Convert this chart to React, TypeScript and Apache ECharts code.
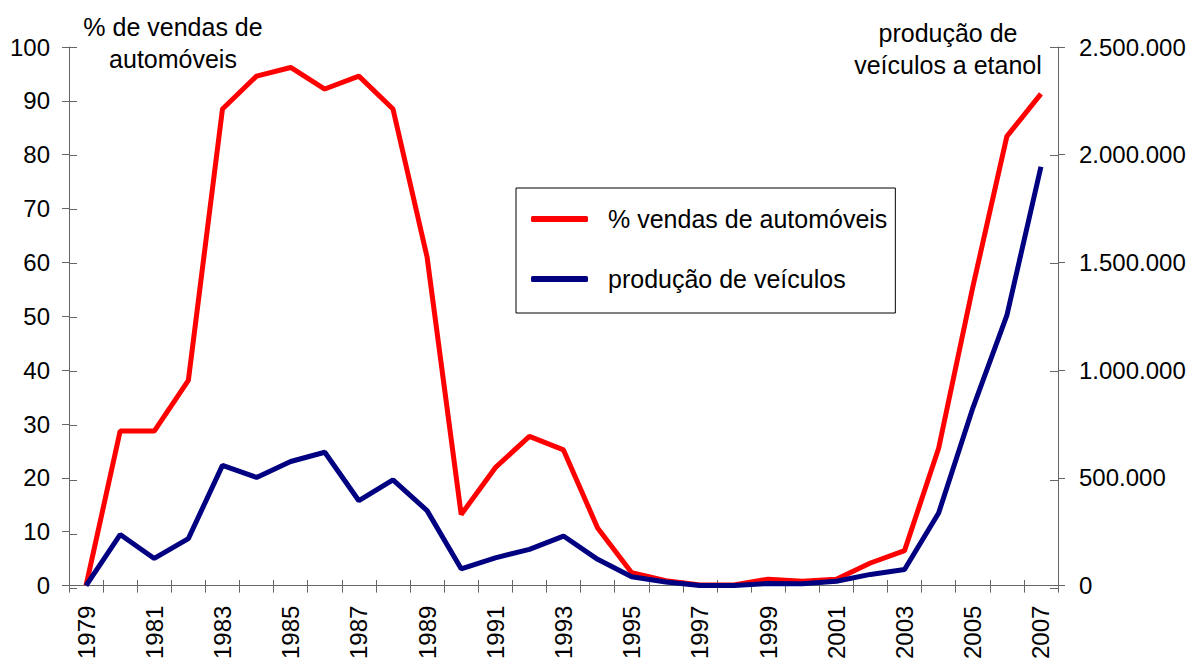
import React, { useEffect, useRef } from "react";
import * as echarts from "echarts";

const years = [
  "1979", "1980", "1981", "1982", "1983", "1984", "1985", "1986", "1987", "1988",
  "1989", "1990", "1991", "1992", "1993", "1994", "1995", "1996", "1997", "1998",
  "1999", "2000", "2001", "2002", "2003", "2004", "2005", "2006", "2007",
];

// % de vendas de automóveis (eixo esquerdo)
const salesShare = [
  0, 28.7, 28.7, 38.1, 88.5, 94.6, 96.2, 92.2, 94.6, 88.5,
  61.0, 13.2, 21.9, 27.7, 25.2, 10.7, 2.4, 0.9, 0.1, 0.1,
  1.2, 0.8, 1.2, 4.2, 6.5, 25.5, 55.4, 83.4, 91.3,
];

// produção de veículos a etanol (eixo direito)
const production = [
  0, 237000, 126000, 218000, 558000, 502000, 576000, 619000, 394000, 491000,
  348000, 78000, 129000, 168000, 230000, 122000, 41000, 17000, 1000, 1000,
  10000, 9000, 20000, 52000, 75000, 337000, 823000, 1254000, 1944000,
];

const leftTitle = "% de vendas de\nautomóveis";
const rightTitle = "produção de\nveículos a etanol";
const seriesNames = ["% vendas de automóveis", "produção de veículos"];

const FONT = "Liberation Sans, Arial, sans-serif";
const AXIS_COLOR = "#666666";

const fmtDots = (v: number) =>
  String(Math.round(v)).replace(/\B(?=(\d{3})+(?!\d))/g, ".");

export default function App() {
  const ref = useRef<HTMLDivElement>(null);

  useEffect(() => {
    if (!ref.current) return;
    const chart = echarts.init(ref.current, null, { renderer: "svg" });
    const gridRect = { left: 69, right: 135, top: 47, bottom: 74 };
    chart.setOption({
      animation: false,
      backgroundColor: "#ffffff",
      textStyle: { fontFamily: FONT },
      grid: [
        { ...gridRect, containLabel: false },
        { ...gridRect, containLabel: false },
      ],
      legend: {
        orient: "vertical",
        left: 516,
        top: 188,
        data: seriesNames,
        icon: "roundRect",
        itemWidth: 57,
        itemHeight: 6,
        itemGap: 30,
        padding: [16, 8, 19, 15],
        borderColor: "#000000",
        borderWidth: 1,
        textStyle: {
          fontFamily: FONT,
          fontSize: 25,
          color: "#000000",
          lineHeight: 30,
          padding: [0, 0, 0, 15],
        },
      },
      xAxis: [
        {
          type: "category",
          gridIndex: 0,
          data: years,
          boundaryGap: true,
          axisLine: { show: true, lineStyle: { color: AXIS_COLOR, width: 1 } },
          axisTick: {
            show: true,
            interval: 0,
            length: 7,
            lineStyle: { color: AXIS_COLOR },
          },
          axisLabel: {
            interval: 1,
            rotate: 90,
            margin: 20,
            fontSize: 24,
            fontFamily: FONT,
            color: "#000000",
          },
          splitLine: { show: false },
        },
        {
          type: "category",
          gridIndex: 1,
          data: years,
          boundaryGap: true,
          axisLine: { show: false },
          axisTick: {
            show: true,
            inside: true,
            interval: 0,
            length: 8,
            lineStyle: { color: AXIS_COLOR },
          },
          axisLabel: { show: false },
          splitLine: { show: false },
        },
      ],
      yAxis: [
        {
          type: "value",
          gridIndex: 0,
          position: "left",
          min: 0,
          max: 100,
          interval: 10,
          axisLine: { show: true, lineStyle: { color: AXIS_COLOR } },
          axisTick: { show: true, length: 7, lineStyle: { color: AXIS_COLOR } },
          axisLabel: { margin: 19, fontSize: 24, fontFamily: FONT, color: "#000000" },
          splitLine: { show: false },
        },
        {
          type: "value",
          gridIndex: 0,
          position: "right",
          min: 0,
          max: 2500000,
          interval: 500000,
          axisLine: { show: true, lineStyle: { color: AXIS_COLOR } },
          axisTick: { show: true, length: 7, lineStyle: { color: AXIS_COLOR } },
          axisLabel: {
            margin: 21,
            fontSize: 24,
            fontFamily: FONT,
            color: "#000000",
            formatter: (v: number) => fmtDots(v),
          },
          splitLine: { show: false },
        },
        {
          type: "value",
          gridIndex: 1,
          position: "left",
          min: 0,
          max: 100,
          interval: 10,
          axisLine: { show: false },
          axisTick: { show: true, inside: true, length: 8, lineStyle: { color: AXIS_COLOR } },
          axisLabel: { show: false },
          splitLine: { show: false },
        },
        {
          type: "value",
          gridIndex: 1,
          position: "right",
          min: 0,
          max: 2500000,
          interval: 500000,
          axisLine: { show: false },
          axisTick: { show: true, inside: true, length: 8, lineStyle: { color: AXIS_COLOR } },
          axisLabel: { show: false },
          splitLine: { show: false },
        },
      ],
      series: [
        {
          name: seriesNames[0],
          type: "line",
          xAxisIndex: 0,
          yAxisIndex: 0,
          data: salesShare,
          symbol: "none",
          color: "#ff0000",
          lineStyle: { color: "#ff0000", width: 5 },
          clip: false,
        },
        {
          name: seriesNames[1],
          type: "line",
          xAxisIndex: 0,
          yAxisIndex: 1,
          data: production,
          symbol: "none",
          color: "#000080",
          lineStyle: { color: "#000080", width: 5 },
          clip: false,
        },
      ],
      graphic: [
        {
          type: "text",
          x: 173,
          y: 11,
          silent: true,
          style: {
            text: leftTitle,
            fontSize: 25,
            fontFamily: FONT,
            fill: "#000000",
            lineHeight: 32,
            align: "center",
            verticalAlign: "top",
          },
        },
        {
          type: "text",
          x: 948,
          y: 17,
          silent: true,
          style: {
            text: rightTitle,
            fontSize: 25,
            fontFamily: FONT,
            fill: "#000000",
            lineHeight: 32,
            align: "center",
            verticalAlign: "top",
          },
        },
      ],
    });
    return () => chart.dispose();
  }, []);

  return (
    <div
      ref={ref}
      style={{ position: "fixed", left: 0, top: 0, width: 1193, height: 662, background: "#fff" }}
    />
  );
}
